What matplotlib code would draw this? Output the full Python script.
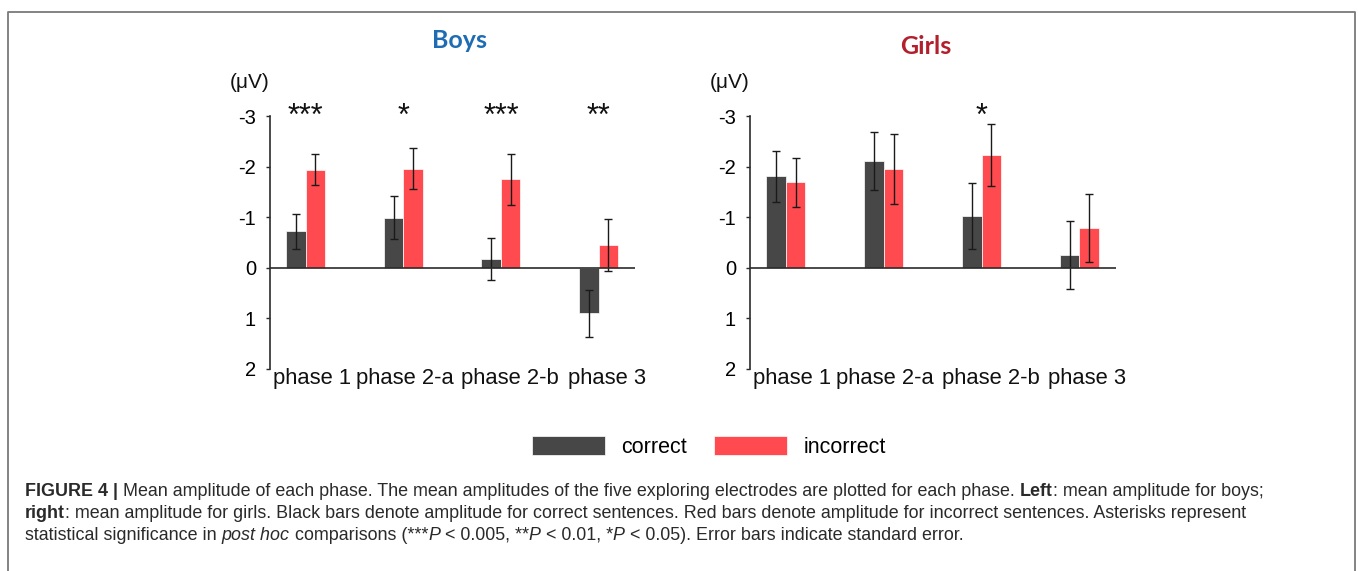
import matplotlib
matplotlib.use("Agg")
import matplotlib.pyplot as plt
from matplotlib.lines import Line2D
from matplotlib.font_manager import FontProperties
import numpy as np

plt.rcParams['axes.unicode_minus'] = False
plt.rcParams['font.family'] = ['Liberation Sans', 'DejaVu Sans']

# Data ---------------------------------------------------------------
phases = ["phase 1", "phase 2-a", "phase 2-b", "phase 3"]
series_names = ["correct", "incorrect"]

boys_correct = [-0.72, -0.99, -0.17, 0.90]
boys_correct_se = [0.34, 0.43, 0.42, 0.46]
boys_incorrect = [-1.94, -1.96, -1.75, -0.45]
boys_incorrect_se = [0.31, 0.41, 0.50, 0.52]
boys_sig = ["***", "*", "***", "**"]

girls_correct = [-1.81, -2.11, -1.03, -0.25]
girls_correct_se = [0.50, 0.58, 0.65, 0.67]
girls_incorrect = [-1.69, -1.96, -2.23, -0.78]
girls_incorrect_se = [0.48, 0.69, 0.62, 0.67]
girls_sig = ["", "", "*", ""]

y_ticks = [-3, -2, -1, 0, 1, 2]

# Style --------------------------------------------------------------
C_CORRECT = "#474747"
C_INCORRECT = "#ff4b4f"
AXIS_C = "#2b2b2b"
W, H = 1358, 571
label_nudge_pt = [4.3, 1.1, 6.5, 5.8]   # horizontal nudge of phase labels

fig = plt.figure(figsize=(W / 100, H / 100), dpi=100)


def px_rect(x0, y_top, x1, y_bot):
    return [x0 / W, 1 - y_bot / H, (x1 - x0) / W, (y_bot - y_top) / H]


def panel(ax, correct, c_se, incorrect, i_se, sig):
    x = np.arange(len(phases))
    bw = 0.2
    b1 = ax.bar(x - bw / 2, correct, bw, color=C_CORRECT, edgecolor="white",
                linewidth=0.5, label=series_names[0], zorder=2)
    b2 = ax.bar(x + bw / 2, incorrect, bw, color=C_INCORRECT, edgecolor="white",
                linewidth=0.5, label=series_names[1], zorder=2)
    ax.errorbar(x - bw / 2, correct, yerr=c_se, fmt="none", ecolor="#1a1a1a",
                elinewidth=1.0, capsize=3, capthick=1.0, zorder=3)
    ax.errorbar(x + bw / 2, incorrect, yerr=i_se, fmt="none", ecolor="#1a1a1a",
                elinewidth=1.0, capsize=3, capthick=1.0, zorder=3)
    ax.axhline(0, color=AXIS_C, lw=1.2, zorder=4)
    ax.set_xlim(-0.366, 3.373)
    ax.set_ylim(2, -3)
    ax.set_yticks(y_ticks)
    ax.set_yticklabels([str(v) for v in y_ticks])
    ax.tick_params(axis="y", direction="out", length=3, width=1.0,
                   color=AXIS_C, labelsize=14.5, pad=7)
    ax.set_xticks([])
    for s in ("top", "right", "bottom"):
        ax.spines[s].set_visible(False)
    ax.spines["left"].set_color(AXIS_C)
    ax.spines["left"].set_linewidth(1.2)
    ax.patch.set_alpha(0)
    xt = ax.get_xaxis_transform()
    for i, name in enumerate(phases):
        ax.annotate(name, xy=(i, 0), xycoords=xt,
                    xytext=(label_nudge_pt[i], -6.5),
                    textcoords="offset points", ha="center", va="center",
                    fontsize=15.8, color="#111111", annotation_clip=False)
    for i, s in enumerate(sig):
        if s:
            ax.annotate(s, xy=(i, -3), xycoords="data", xytext=(0, -6.5),
                        textcoords="offset points", ha="center", va="baseline",
                        fontsize=22, color="#111111", annotation_clip=False)
    ax.annotate("(\u03bcV)", xy=(0, 1), xycoords="axes fraction",
                xytext=(-15, 24), textcoords="offset points", ha="center",
                va="center", fontsize=15, color="#111111",
                annotation_clip=False)
    return b1, b2


ax_b = fig.add_axes(px_rect(270, 116, 635, 369))
ax_g = fig.add_axes(px_rect(750, 116, 1116, 369))
handles = panel(ax_b, boys_correct, boys_correct_se, boys_incorrect,
                boys_incorrect_se, boys_sig)
panel(ax_g, girls_correct, girls_correct_se, girls_incorrect,
      girls_incorrect_se, girls_sig)

fig.text(460 / W, 1 - 41 / H, "Boys", ha="center", va="center",
         fontsize=18, fontweight="bold", color="#1e6cb3",
         family=["Lato", "DejaVu Sans"])
fig.text(926 / W, 1 - 47 / H, "Girls", ha="center", va="center",
         fontsize=18, fontweight="bold", color="#b21f2d",
         family=["Lato", "DejaVu Sans"])

fig.legend(handles, series_names, loc="center", ncol=2, frameon=False,
           bbox_to_anchor=(709 / W, 1 - 447 / H), fontsize=15.5,
           handlelength=3.4, handleheight=0.95, handletextpad=0.75,
           columnspacing=1.25)

# Caption frame ------------------------------------------------------
frame_c = "#7a7a7a"
fig.add_artist(Line2D([8 / W, 8 / W, 1355 / W, 1355 / W],
                      [0, 1 - 12 / H, 1 - 12 / H, 0],
                      transform=fig.transFigure, color=frame_c, lw=1.3))

# Caption text, drawn run by run so that styles can be mixed ---------
cap_family = ["Liberation Sans Narrow", "Liberation Sans", "DejaVu Sans"]
cap_size = 12.9
cap_color = "#2a2a2a"
renderer = fig.canvas.get_renderer()


def run_width(text, weight, style):
    fp = FontProperties(family=cap_family, size=cap_size, weight=weight,
                        style=style)
    t1 = fig.text(0, 0, "x" + text + "x", fontproperties=fp)
    t2 = fig.text(0, 0, "xx", fontproperties=fp)
    w = t1.get_window_extent(renderer).width - t2.get_window_extent(renderer).width
    t1.remove()
    t2.remove()
    return w


def draw_line(runs, x0, yc):
    x = x0
    for text, weight, style in runs:
        fp = FontProperties(family=cap_family, size=cap_size, weight=weight,
                            style=style)
        fig.text(x / W, 1 - yc / H, text, fontproperties=fp, color=cap_color,
                 ha="left", va="center")
        x += run_width(text, weight, style)


N, B, I = ("normal", "normal"), ("bold", "normal"), ("normal", "italic")
lines = [
    [("FIGURE 4 |",) + B,
     (" Mean amplitude of each phase. The mean amplitudes of the five exploring "
      "electrodes are plotted for each phase. ",) + N,
     ("Left",) + B, (": mean amplitude for boys;",) + N],
    [("right",) + B,
     (": mean amplitude for girls. Black bars denote amplitude for correct "
      "sentences. Red bars denote amplitude for incorrect sentences. "
      "Asterisks represent",) + N],
    [("statistical significance in ",) + N, ("post hoc",) + I,
     (" comparisons (***",) + N, ("P",) + I, (" < 0.005, **",) + N,
     ("P",) + I, (" < 0.01, *",) + N, ("P",) + I,
     (" < 0.05). Error bars indicate standard error.",) + N],
]
for k, runs in enumerate(lines):
    draw_line(runs, 25, 491 + 22 * k)

fig.savefig("out.png", dpi=100)
